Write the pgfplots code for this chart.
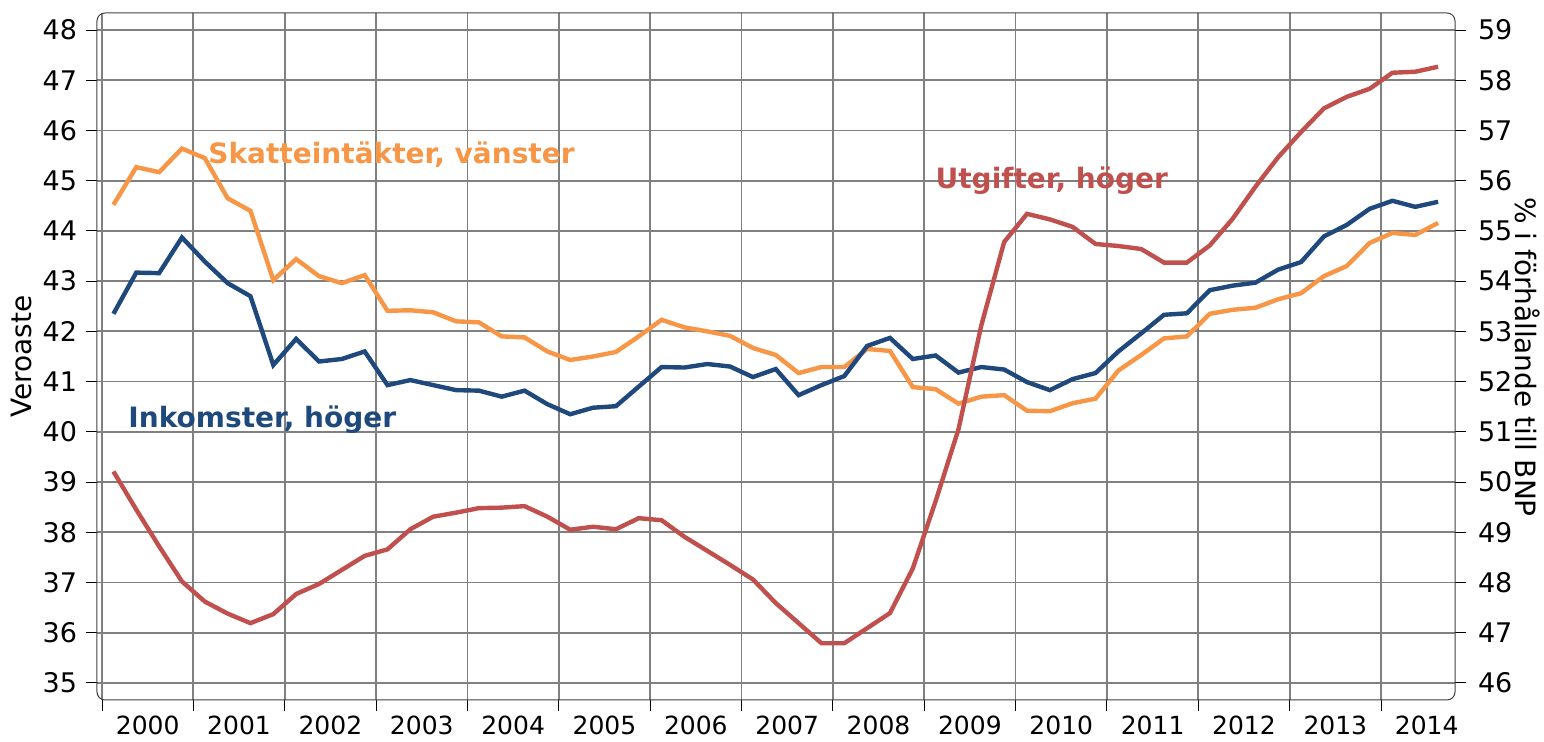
\documentclass[border=0pt]{standalone}
\usepackage{fontspec}
\setmainfont{DejaVu Sans}
\usepackage{pgfplots}
\pgfplotsset{compat=1.18}
\usepackage{pgfplotstable}
\definecolor{cS}{RGB}{247,150,70}
\definecolor{cI}{RGB}{31,73,125}
\definecolor{cU}{RGB}{192,80,77}
\pgfplotstableread{
x S I U
2000.125 44.52 53.35 50.21
2000.375 45.27 54.17 49.45
2000.625 45.17 54.16 48.72
2000.875 45.64 54.87 48.02
2001.125 45.45 54.39 47.62
2001.375 44.65 53.96 47.38
2001.625 44.40 53.70 47.19
2001.875 43.02 52.33 47.37
2002.125 43.44 52.85 47.77
2002.375 43.10 52.40 47.97
2002.625 42.96 52.45 48.25
2002.875 43.12 52.60 48.53
2003.125 42.41 51.93 48.66
2003.375 42.42 52.03 49.06
2003.625 42.38 51.93 49.31
2003.875 42.20 51.83 49.39
2004.125 42.18 51.82 49.48
2004.375 41.90 51.70 49.49
2004.625 41.88 51.82 49.52
2004.875 41.60 51.55 49.31
2005.125 41.43 51.35 49.05
2005.375 41.50 51.48 49.11
2005.625 41.59 51.51 49.06
2005.875 41.90 51.90 49.28
2006.125 42.23 52.29 49.24
2006.375 42.08 52.28 48.91
2006.625 42.00 52.35 48.63
2006.875 41.91 52.30 48.35
2007.125 41.67 52.09 48.06
2007.375 41.53 52.25 47.59
2007.625 41.17 51.73 47.19
2007.875 41.29 51.93 46.79
2008.125 41.29 52.11 46.79
2008.375 41.65 52.71 47.09
2008.625 41.61 52.87 47.39
2008.875 40.89 52.45 48.28
2009.125 40.85 52.52 49.62
2009.375 40.56 52.18 51.05
2009.625 40.70 52.29 53.12
2009.875 40.73 52.24 54.78
2010.125 40.42 51.99 55.34
2010.375 40.41 51.83 55.23
2010.625 40.57 52.05 55.08
2010.875 40.66 52.17 54.74
2011.125 41.22 52.60 54.70
2011.375 41.53 52.96 54.64
2011.625 41.86 53.33 54.37
2011.875 41.90 53.36 54.37
2012.125 42.35 53.82 54.71
2012.375 42.43 53.91 55.24
2012.625 42.47 53.97 55.88
2012.875 42.64 54.23 56.47
2013.125 42.76 54.38 56.97
2013.375 43.10 54.89 57.44
2013.625 43.30 55.12 57.67
2013.875 43.76 55.44 57.83
2014.125 43.96 55.60 58.15
2014.375 43.92 55.48 58.17
2014.625 44.16 55.58 58.27
}\data
\begin{document}
\begin{tikzpicture}
\pgfplotsset{
  base/.style={
    scale only axis, width=679pt, height=343.5pt,
    xmin=1999.945, xmax=2014.81,
    /pgf/number format/assume math mode=true,
    tick label style={font=\fontsize{13.5}{15}\selectfont},
    axis line style={draw=none},
    tick style={black, line width=0.5pt},
    tick align=outside,
    major tick length=5.5pt,
    minor tick num=0,
  }
}
\begin{axis}[base, name=ax,
  ymin=34.66, ymax=48.34, ytick={35,36,...,48}, ytick pos=left,
  yticklabel style={xshift=-1pt},
  xtick={2000,2001,...,2014}, xticklabels={}, xtick pos=left,
  extra x ticks={2000.5,2001.5,2002.5,2003.5,2004.5,2005.5,2006.5,2007.5,2008.5,2009.5,2010.5,2011.5,2012.5,2013.5,2014.5},
  extra x tick labels={2000,2001,2002,2003,2004,2005,2006,2007,2008,2009,2010,2011,2012,2013,2014},
  extra x tick style={major tick length=0pt, grid=none, xticklabel style={yshift=-4.5pt, font=\fontsize{12.5}{14}\selectfont}},
  xmajorgrids, ymajorgrids, grid style={gray, line width=0.9pt},
  ylabel={Veroaste},
  every axis y label/.style={at={(axis description cs:-0.0555,0.5)}, rotate=90, anchor=center, font=\fontsize{14}{16}\selectfont},
]
\addplot[cS, line width=2.2pt] table[x=x,y=S]{\data};
\node[anchor=west, font=\fontsize{14}{16}\selectfont\bfseries, text=cS, inner sep=0pt] at (axis cs:2001.16,45.51) {Skatteintäkter, vänster};
\node[anchor=west, font=\fontsize{14}{16}\selectfont\bfseries, text=cU, inner sep=0pt] at (axis cs:2009.12,45.01) {Utgifter, höger};
\node[anchor=west, font=\fontsize{14}{16}\selectfont\bfseries, text=cI, inner sep=0pt] at (axis cs:2000.285,40.24) {Inkomster, höger};
\end{axis}
\begin{axis}[base,
  ymin=45.66, ymax=59.34, ytick={46,47,...,59}, ytick pos=right,
  yticklabel style={xshift=2.5pt},
  xtick=\empty,
  ylabel={\% i förhållande till BNP},
  every axis y label/.style={at={(axis description cs:1.0535,0.4993)}, rotate=-90, anchor=center, font=\fontsize{14}{16}\selectfont},
]
\addplot[cI, line width=2.2pt] table[x=x,y=I]{\data};
\addplot[cU, line width=2.2pt] table[x=x,y=U]{\data};
\end{axis}
\draw[rounded corners=4pt, black!75, line width=0.5pt] (ax.south west) rectangle (ax.north east);
\pgfresetboundingbox
\useasboundingbox (-48.5pt,-21pt) rectangle (723.5pt,350pt);
\end{tikzpicture}
\end{document}
